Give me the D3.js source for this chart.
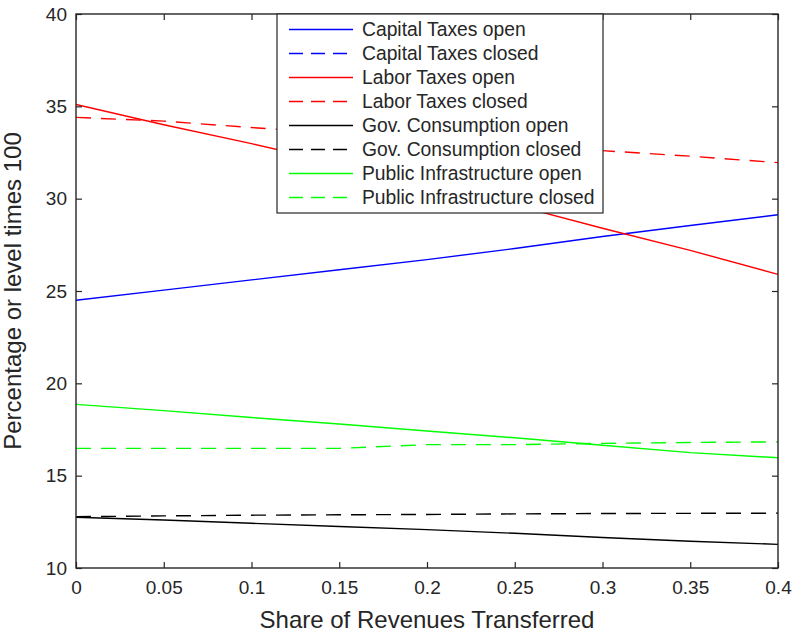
<!DOCTYPE html>
<html>
<head>
<meta charset="utf-8">
<script src="https://cdn.jsdelivr.net/npm/d3@7"></script>
<style>
  body { margin: 0; background: #fff; }
  svg text { font-family: "Liberation Sans", Arial, Helvetica, sans-serif; fill: #262626; }
</style>
</head>
<body>
<div id="chart"></div>
<script>
// data
var shares = [0, 0.05, 0.1, 0.15, 0.2, 0.25, 0.3, 0.35, 0.4];
var capOpen   = [24.5, 25.05, 25.6, 26.15, 26.7, 27.3, 27.95, 28.55, 29.13];
var capClosed = []; // not visible inside the axes
var labOpen   = [35.1, 34.0, 32.98, 31.9, 30.8, 29.65, 28.4, 27.2, 25.9];
var labClosed = [34.4, 34.2, 33.85, 33.55, 33.25, 32.9, 32.6, 32.3, 31.95];
var govOpen   = [12.75, 12.6, 12.42, 12.25, 12.08, 11.88, 11.65, 11.45, 11.28];
var govClosed = [12.78, 12.82, 12.86, 12.88, 12.9, 12.93, 12.95, 12.96, 12.97];
var pubOpen   = [18.86, 18.52, 18.15, 17.8, 17.42, 17.05, 16.65, 16.25, 15.97];
var pubClosed = [16.48, 16.48, 16.48, 16.48, 16.68, 16.68, 16.75, 16.8, 16.83];

var xTicks = [0, 0.05, 0.1, 0.15, 0.2, 0.25, 0.3, 0.35, 0.4];
var yTicks = [10, 15, 20, 25, 30, 35, 40];

var seriesNames = ["Capital Taxes open", "Capital Taxes closed", "Labor Taxes open", "Labor Taxes closed",
  "Gov. Consumption open", "Gov. Consumption closed", "Public Infrastructure open", "Public Infrastructure closed"];
var seriesValues = [capOpen, capClosed, labOpen, labClosed, govOpen, govClosed, pubOpen, pubClosed];
var seriesColors = ["#0000ff", "#0000ff", "#ff0000", "#ff0000", "#000000", "#000000", "#00ff00", "#00ff00"];
var seriesDashed = [false, true, false, true, false, true, false, true];

var margin = {top: 14, right: 18, bottom: 67, left: 76},
    width = 796 - margin.left - margin.right,
    height = 635 - margin.top - margin.bottom;

var svg = d3.select("#chart")
  .append("svg")
    .attr("width", 796)
    .attr("height", 635)
  .append("g")
    .attr("transform", "translate(" + margin.left + "," + margin.top + ")");

var x = d3.scaleLinear().domain([0, 0.4]).range([0, width]);
var y = d3.scaleLinear().domain([10, 40]).range([height, 0]);

svg.append("clipPath").attr("id", "clip")
  .append("rect").attr("width", width).attr("height", height);

// lines
var line = d3.line()
  .x(function(d) { return x(d[0]); })
  .y(function(d) { return y(d[1]); });

var lines = svg.append("g").attr("clip-path", "url(#clip)");
for (var i = 0; i < seriesValues.length; i++) {
  var pts = seriesValues[i].map(function(v, j) { return [shares[j], v]; });
  if (pts.length == 0) continue;
  lines.append("path")
    .datum(pts)
    .attr("d", line)
    .attr("fill", "none")
    .attr("stroke", seriesColors[i])
    .attr("stroke-width", 1.4)
    .attr("stroke-dasharray", seriesDashed[i] ? "15,10" : null);
}

// axes, ticks pointing inward on all four sides
function styleAxis(g) {
  g.select(".domain").remove();
  g.selectAll(".tick line").attr("stroke", "#262626").attr("stroke-width", 1.2);
  g.selectAll("text").style("font-size", "19px").attr("fill", "#262626");
}
var fmt = function(d) { return d3.format("")(+d.toFixed(2)); };

svg.append("g")
  .attr("transform", "translate(0," + height + ")")
  .call(d3.axisBottom(x).tickValues(xTicks).tickFormat(fmt).tickSizeInner(-6).tickSizeOuter(0).tickPadding(13))
  .call(styleAxis);
svg.append("g")
  .call(d3.axisTop(x).tickValues(xTicks).tickFormat("").tickSizeInner(-6).tickSizeOuter(0))
  .call(styleAxis);
svg.append("g")
  .call(d3.axisLeft(y).tickValues(yTicks).tickSizeInner(-6).tickSizeOuter(0).tickPadding(9))
  .call(styleAxis);
svg.append("g")
  .attr("transform", "translate(" + width + ",0)")
  .call(d3.axisRight(y).tickValues(yTicks).tickFormat("").tickSizeInner(-6).tickSizeOuter(0))
  .call(styleAxis);

svg.append("rect")
  .attr("width", width)
  .attr("height", height)
  .attr("fill", "none")
  .attr("stroke", "#262626")
  .attr("stroke-width", 1.4);

// axis titles
svg.append("text")
  .attr("x", width / 2)
  .attr("y", height + 60)
  .attr("text-anchor", "middle")
  .style("font-size", "24px")
  .text("Share of Revenues Transferred");

svg.append("text")
  .attr("transform", "translate(" + (-55) + "," + (height / 2) + ") rotate(-90)")
  .attr("text-anchor", "middle")
  .style("font-size", "24px")
  .text("Percentage or level times 100");

// legend
var lx = 277 - margin.left, ly = 0, lw = 326, lh = 199, rowH = 24;
var legend = svg.append("g").attr("transform", "translate(" + lx + "," + ly + ")");
legend.append("rect")
  .attr("width", lw)
  .attr("height", lh)
  .attr("fill", "#fff")
  .attr("stroke", "#262626")
  .attr("stroke-width", 1.2);

var rows = legend.selectAll(".row")
  .data(seriesNames)
  .enter().append("g")
  .attr("class", "row")
  .attr("transform", function(d, i) { return "translate(0," + (15.5 + i * rowH) + ")"; });

rows.append("line")
  .attr("x1", 12).attr("x2", 76)
  .attr("stroke", function(d, i) { return seriesColors[i]; })
  .attr("stroke-width", 1.4)
  .attr("stroke-dasharray", function(d, i) { return seriesDashed[i] ? "14,8" : null; });

rows.append("text")
  .attr("x", 85)
  .attr("dy", "0.36em")
  .style("font-size", "19.3px")
  .text(function(d) { return d; });
</script>
</body>
</html>
